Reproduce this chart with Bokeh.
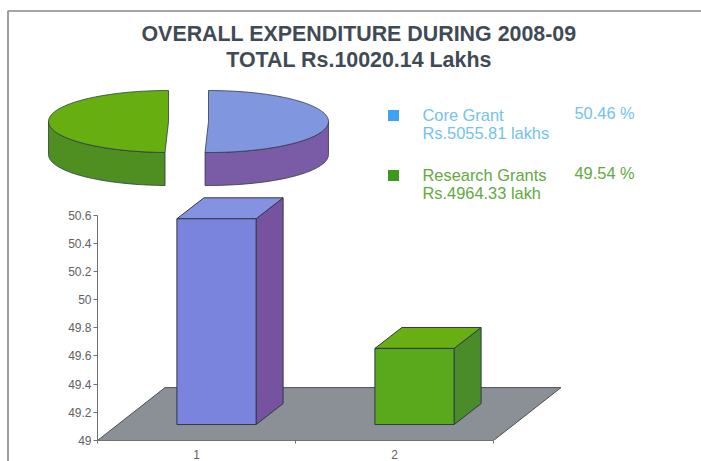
from bokeh.plotting import figure
from bokeh.layouts import column
from bokeh.models import Range1d, LinearAxis, FixedTicker
from bokeh.core.properties import value
from bokeh.embed import file_html
from bokeh.resources import INLINE
import numpy as np

# ---- data ----
title_lines = ["OVERALL EXPENDITURE DURING 2008-09", "TOTAL Rs.10020.14 Lakhs"]
categories = [1, 2]
shares = [50.46, 49.54]
legend_names = ["Core Grant", "Research Grants"]
legend_amounts = ["Rs.5055.81 lakhs", "Rs.4964.33 lakh"]
legend_pcts = ["50.46 %", "49.54 %"]
y_ticks = [49, 49.2, 49.4, 49.6, 49.8, 50, 50.2, 50.4, 50.6]
y_labels = ["49", "49.2", "49.4", "49.6", "49.8", "50", "50.2", "50.4", "50.6"]

W, H = 701, 461
FONT = "Liberation Sans"
OUT = "#2f3a46"
BLUE = dict(front="#7a84dc", top="#8592e2", side="#76529f")
GREEN = dict(front="#5aa81c", top="#69ae12", side="#4a8c2a")
PIE_BLUE = dict(top="#8097e0", side="#7a5ca6")
PIE_GREEN = dict(top="#67ae10", side="#4f8f22")

# ---- upper layer: frame, title, pie, legend (coordinates are page pixels) ----
top = figure(width=W, height=H, x_range=Range1d(0, W), y_range=Range1d(H, 0),
             output_backend="svg", toolbar_location=None, min_border=0, outline_line_color=None,
             x_axis_location=None, y_axis_location=None)
top.frame_align = False
top.grid.visible = False
top.background_fill_color = "#ffffff"
top.border_fill_color = "#ffffff"

top.line([7.5, 7.5, W], [H, 10.5, 10.5], line_color="#85888c", line_width=1.6)

for line, ty in zip(title_lines, [33, 59]):
    top.text([358.5], [ty], text=[line], text_align="center", text_baseline="middle",
             text_font=value(FONT), text_font_style="bold", text_font_size="21.4px", text_color="#3f4b54")

# pie: sweep clockwise from the top, wedge angles come from the shares
RX, RY, DEPTH, CY = 120, 31, 33, 121
sweep = np.array(shares) / sum(shares) * 2 * np.pi
start = np.pi / 2
for share_sweep, cx, col in zip(sweep, [208, 168], [PIE_BLUE, PIE_GREEN]):
    th = np.linspace(start, start - share_sweep, 120)
    ex, ey = cx + RX * np.cos(th), CY - RY * np.sin(th)
    # visible rim: the part of the arc on the lower half of the ellipse
    low = np.sin(th) <= 0.02
    rx, ry = ex[low], ey[low]
    top.patch(np.r_[rx, rx[::-1]], np.r_[ry, ry[::-1] + DEPTH], fill_color=col["side"],
              line_color=OUT, line_width=0.8)
    top.patch(np.r_[cx, ex], np.r_[CY, ey], fill_color=col["top"], line_color=OUT, line_width=0.8)
    start -= share_sweep

for i, (name, amt, pct, c, sw) in enumerate(zip(legend_names, legend_amounts, legend_pcts,
                                                ["#72c2f0", "#62aa3c"], ["#3fa3f5", "#3f981e"])):
    y0 = 115 + i * 60
    top.scatter([393], [y0], marker="square", size=11, fill_color=sw, line_color=None)
    top.text([422], [y0 - 1], text=[name], text_baseline="middle", text_font=value(FONT),
             text_font_size="16.4px", text_color=c)
    top.text([422], [y0 + 17], text=[amt], text_baseline="middle", text_font=value(FONT),
             text_font_size="16.4px", text_color=c)
    top.text([574], [y0 - 3], text=[pct], text_baseline="middle", text_font=value(FONT),
             text_font_size="16.4px", text_color=c)

# ---- lower layer: the 3-D bar chart on real axes ----
PX_X = 198.0    # pixels per category
PX_Y = 141.25   # pixels per unit of value
frame_w, frame_h = 604, 441
p = figure(width=W, height=H,
           x_range=Range1d(0.5, 0.5 + frame_w / PX_X),
           y_range=Range1d(49, 49 + frame_h / PX_Y),
           output_backend="svg", toolbar_location=None, outline_line_color=None,
           x_axis_location=None, y_axis_location=None,
           min_border_left=97, min_border_right=0, min_border_top=0, min_border_bottom=20)
p.frame_align = False
p.background_fill_alpha = 0
p.border_fill_alpha = 0
p.grid.visible = False
p.margin = (-H, 0, 0, 0)

ax_col = "#6f7377"
lab_col = "#5f6164"
yax = LinearAxis(ticker=FixedTicker(ticks=y_ticks), bounds=(49, 50.6),
                 major_label_overrides={t: l for t, l in zip(y_ticks, y_labels)},
                 axis_line_color=ax_col, major_tick_line_color=ax_col,
                 major_tick_in=0, major_tick_out=4, minor_tick_line_color=None,
                 major_label_text_font=FONT, major_label_text_font_size="12px",
                 major_label_text_color=lab_col, major_label_standoff=2)
xax = LinearAxis(ticker=FixedTicker(ticks=categories, minor_ticks=[0.5, 1.5, 2.5]), bounds=(0.5, 2.5),
                 major_label_overrides={c: str(c) for c in categories},
                 axis_line_color=ax_col, major_tick_line_color=None,
                 minor_tick_line_color=ax_col, minor_tick_in=0, minor_tick_out=3,
                 major_label_text_font=FONT, major_label_text_font_size="12px",
                 major_label_text_color=lab_col, major_label_standoff=3)
p.add_layout(yax, "left")
p.add_layout(xax, "below")

# floor
fdx, fdy = 67.5 / PX_X, 53 / PX_Y
p.patch([0.5, 2.5, 2.5 + fdx, 0.5 + fdx], [49, 49, 49 + fdy, 49 + fdy],
        fill_color="#8b9096", line_color="#4b4f53", line_width=1)

# bars: they stand on the floor, so base and top are both lifted by the floor offset
bdx, bdy = 27 / PX_X, 21 / PX_Y          # bar depth
ox, oy = 20 / PX_X, 16 / PX_Y            # bar sits in the middle of the floor
bw = 0.4
for c, v, col in zip(categories, shares, [BLUE, GREEN]):
    x0, x1 = c - bw / 2 + ox, c + bw / 2 + ox
    y0, y1 = 49 + oy, v + oy
    p.patch([x1, x1 + bdx, x1 + bdx, x1], [y0, y0 + bdy, y1 + bdy, y1],
            fill_color=col["side"], line_color=OUT, line_width=1)
    p.patch([x0, x1, x1 + bdx, x0 + bdx], [y1, y1, y1 + bdy, y1 + bdy],
            fill_color=col["top"], line_color=OUT, line_width=1)
    p.patch([x0, x1, x1, x0], [y0, y0, y1, y1],
            fill_color=col["front"], line_color=OUT, line_width=1)

page = column(top, p, spacing=0)
open("out.html", "w").write(file_html(page, INLINE))
